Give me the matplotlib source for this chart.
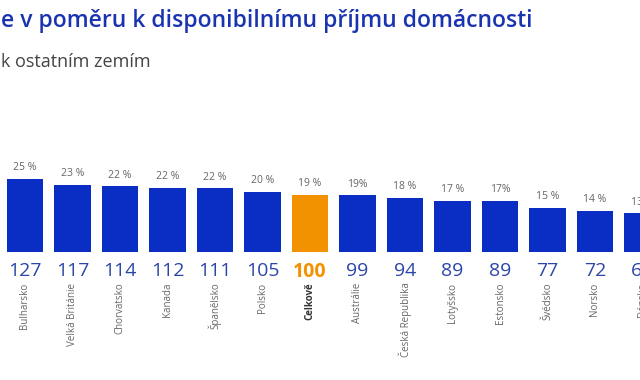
import matplotlib
matplotlib.use("Agg")
import matplotlib.pyplot as plt

countries = ["Bulharsko", "Velká Británie", "Chorvatsko", "Kanada", "Španělsko", "Polsko",
             "Celkově", "Austrálie", "Česká Republika", "Lotyšsko", "Estonsko", "Švédsko",
             "Norsko", "Dánsko"]
index_values = [127, 117, 114, 112, 111, 105, 100, 99, 94, 89, 89, 77, 72, 67]
pct_labels = ["25 %", "23 %", "22 %", "22 %", "22 %", "20 %", "19 %", "19%", "18 %",
              "17 %", "17%", "15 %", "14 %", "13 %"]
highlight = "Celkově"

title = "e v poměru k disponibilnímu příjmu domácnosti"
subtitle = "k ostatním zemím"

BLUE = "#0a2ec4"
ORANGE = "#f39200"
NUM_BLUE = "#2b46a6"
GRAY = "#666666"

plt.rcParams['font.family'] = ['Open Sans', 'DejaVu Sans']

fig = plt.figure(figsize=(6.4, 3.8), dpi=100)
W, H = 640, 380
base_px = 252
ax_h_px = 130
ax = fig.add_axes([0, (H - base_px) / H, 1, ax_h_px / H])
pitch = 47.5
x0 = 25
ax.set_xlim(-x0 / pitch, (W - x0) / pitch)
ax.set_ylim(0, ax_h_px / 73 * 127)
ax.axis('off')

x = list(range(len(countries)))
colors = [ORANGE if c == highlight else BLUE for c in countries]
ax.bar(x, index_values, width=0.77, color=colors, zorder=2)

for xi, v, p in zip(x, index_values, pct_labels):
    ax.annotate(p, (xi, v), xytext=(0, 4), textcoords='offset points',
                ha='center', va='bottom', fontsize=7.5, color=GRAY,
                annotation_clip=False)

for xi, v, c in zip(x, index_values, countries):
    col = ORANGE if c == highlight else NUM_BLUE
    ax.annotate(str(v), (xi, 0), xytext=(0, -7), textcoords='offset points',
                ha='center', va='top', fontsize=14, color=col,
                fontweight='bold' if c == highlight else 'normal',
                annotation_clip=False)
    ax.annotate(c, (xi, 0), xytext=(0, -22), textcoords='offset points',
                ha='center', va='top', rotation=90, fontsize=7,
                color="#333333" if c == highlight else GRAY,
                fontweight='bold' if c == highlight else 'normal',
                annotation_clip=False)

fig.text(0.002, 1 - 21 / H, title, fontsize=16.5, fontweight='semibold',
         color="#1a33b0", ha='left', va='center')
fig.text(0.002, 1 - 62 / H, subtitle, fontsize=13, color="#444444",
         ha='left', va='center')

fig.savefig("out.png", dpi=100)
